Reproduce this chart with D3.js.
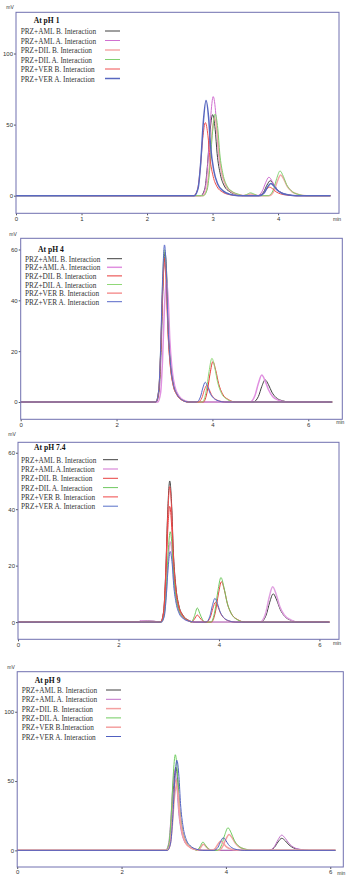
<!DOCTYPE html>
<html lang="en">
<head>
<meta charset="UTF-8" />
<title>PRZ interaction chromatograms</title>
<style>
  body { margin: 0; background: #fff; }
  .axis path { display: none; }
  .axis line { stroke: #555; }
  .axis text { font-family: "Liberation Sans", Arial, sans-serif; font-size: 6px; fill: #333; }
  .leg text { font-family: "Liberation Serif", "Times New Roman", serif; font-size: 7.3px; fill: #333; }
  .leg .ttl { font-weight: bold; fill: #111; font-size: 7.6px; }
  .unit { font-family: "Liberation Sans", Arial, sans-serif; font-size: 5px; fill: #333; }
</style>
</head>
<body>
<div id="chart"></div>
<script src="https://d3js.org/d3.v7.min.js"></script>
<script>
// ---- data (time in min, signal in mV) ----
const seriesNames = [
  ["PRZ+AML B. Interaction", "PRZ+AML A. Interaction", "PRZ+DIL B. Interaction", "PRZ+DIL A. Interaction", "PRZ+VER B. Interaction", "PRZ+VER A. Interaction"],
  ["PRZ+AML B. Interaction", "PRZ+AML A. Interaction", "PRZ+DIL B. Interaction", "PRZ+DIL A. Interaction", "PRZ+VER B. Interaction", "PRZ+VER A. Interaction"],
  ["PRZ+AML B. Interaction", "PRZ+AML A.Interaction", "PRZ+DIL B. Interaction", "PRZ+DIL A. Interaction", "PRZ+VER B. Interaction", "PRZ+VER A. Interaction"],
  ["PRZ+AML B. Interaction", "PRZ+AML A. Interaction", "PRZ+DIL B. Interaction", "PRZ+DIL A. Interaction", "PRZ+VER B.Interaction", "PRZ+VER A. Interaction"]
]
const panelTitles = ["At pH 1", "At pH 4", "At pH 7.4", "At pH 9"]
const xTicks = [[0, 1, 2, 3, 4], [0, 2, 4, 6], [0, 2, 4, 6], [0, 2, 4, 6]]
const yTicks = [[0, 50, 100], [0, 20, 40, 60], [0, 20, 40, 60], [0, 50, 100]]

const ph1Curves = [
  [[0,0],[2.82,0],[2.88,4.6],[2.92,20],[2.96,44.5],[3.00,57],[3.04,46.7],[3.07,29.6],[3.12,14.8],[3.18,6.8],[3.26,2.9],[3.36,0.9],[3.50,0],[3.70,0],[3.78,2.6],[3.83,7.4],[3.88,10.5],[3.93,8.2],[3.98,4.7],[4.05,2.1],[4.15,0.6],[4.28,0],[4.80,0]],
  [[0.97,0],[2.83,0],[2.89,5.6],[2.93,24.4],[2.97,54.4],[3.01,69.7],[3.05,57.2],[3.08,36.2],[3.13,18.1],[3.19,8.4],[3.27,3.5],[3.37,1],[3.51,0],[3.68,0],[3.76,3.3],[3.81,9.1],[3.86,13],[3.91,10.1],[3.96,5.9],[4.03,2.6],[4.13,0.8],[4.26,0],[4.80,0]],
  [[0.97,0],[2.85,0],[2.91,4.4],[2.95,19.3],[2.99,42.9],[3.03,55],[3.07,45.1],[3.10,28.6],[3.15,14.3],[3.21,6.6],[3.29,2.8],[3.39,0.8],[3.46,0],[3.52,0.5],[3.58,1.2],[3.63,0.7],[3.70,0],[3.86,0],[3.94,3.6],[3.99,10.2],[4.04,14.5],[4.09,11.3],[4.14,6.5],[4.21,2.9],[4.31,0.9],[4.44,0],[4.80,0]],
  [[0,0],[2.86,0],[2.92,4.6],[2.96,20.1],[3.00,44.9],[3.04,57.5],[3.08,47.2],[3.11,29.9],[3.16,15],[3.22,6.9],[3.30,2.9],[3.40,0.9],[3.46,0],[3.52,0.8],[3.58,2],[3.63,1.2],[3.70,0],[3.85,0],[3.93,4.4],[3.98,12.2],[4.03,17.4],[4.08,13.6],[4.13,7.8],[4.20,3.5],[4.30,1],[4.43,0],[4.80,0]],
  [[0,0],[2.71,0],[2.77,4.1],[2.81,18],[2.85,40.1],[2.89,51.4],[2.93,42.1],[2.96,26.7],[3.01,13.4],[3.07,6.2],[3.15,2.6],[3.25,0.8],[3.39,0],[3.69,0],[3.77,1.5],[3.82,4.2],[3.87,6],[3.92,4.7],[3.97,2.7],[4.04,1.2],[4.14,0.4],[4.27,0],[4.80,0]],
  [[0,0],[2.72,0],[2.78,5.4],[2.82,23.5],[2.86,52.3],[2.90,67],[2.94,54.9],[2.97,34.8],[3.02,17.4],[3.08,8],[3.16,3.4],[3.26,1],[3.40,0],[3.71,0],[3.79,2.1],[3.84,6],[3.89,8.5],[3.94,6.6],[3.99,3.8],[4.06,1.7],[4.16,0.5],[4.29,0],[4.80,0]]
]
const ph4Curves = [
  [[0,0],[2.83,0],[2.89,4.7],[2.93,20.7],[2.97,46],[3.01,59],[3.05,48.4],[3.08,30.7],[3.13,15.3],[3.19,7.1],[3.27,3],[3.37,0.9],[3.51,0],[4.85,0],[4.96,2.2],[5.03,6.1],[5.10,8.7],[5.17,6.8],[5.24,3.9],[5.33,1.7],[5.46,0.5],[5.62,0],[6.50,0]],
  [[0,0],[2.86,0],[2.92,3.8],[2.96,16.8],[3.00,37.4],[3.04,48],[3.08,39.4],[3.11,25],[3.16,12.5],[3.22,5.8],[3.30,2.4],[3.40,0.7],[3.54,0],[4.78,0],[4.89,2.7],[4.96,7.4],[5.03,10.6],[5.10,8.3],[5.17,4.8],[5.26,2.1],[5.39,0.6],[5.55,0],[6.40,0]],
  [[0,0],[2.82,0],[2.88,4.5],[2.92,19.8],[2.96,44.1],[3.00,56.5],[3.04,46.3],[3.07,29.4],[3.12,14.7],[3.18,6.8],[3.26,2.8],[3.36,0.8],[3.50,0],[3.81,0],[3.89,4],[3.95,11.1],[4.01,15.9],[4.07,12.4],[4.13,7.2],[4.21,3.2],[4.33,1],[4.49,0],[6.50,0]],
  [[0,0],[2.82,0],[2.88,4.8],[2.92,21],[2.96,46.8],[3.00,60],[3.04,49.2],[3.07,31.2],[3.12,15.6],[3.18,7.2],[3.26,3],[3.36,0.9],[3.50,0],[3.79,0],[3.87,4.3],[3.93,12],[3.99,17.2],[4.05,13.4],[4.11,7.7],[4.19,3.4],[4.31,1],[4.47,0],[6.50,0]],
  [[0,0],[2.82,0],[2.88,4.4],[2.92,19.3],[2.96,42.9],[3.00,55],[3.04,45.1],[3.07,28.6],[3.12,14.3],[3.18,6.6],[3.26,2.8],[3.36,0.8],[3.50,0],[3.70,0],[3.78,1.6],[3.83,4.6],[3.88,6.5],[3.93,5.1],[3.98,2.9],[4.05,1.3],[4.15,0.4],[4.28,0],[6.50,0]],
  [[0,0],[2.82,0],[2.88,4.9],[2.92,21.6],[2.96,48.2],[3.00,61.8],[3.04,50.7],[3.07,32.1],[3.12,16.1],[3.18,7.4],[3.26,3.1],[3.36,0.9],[3.50,0],[3.67,0],[3.75,2],[3.80,5.5],[3.85,7.8],[3.90,6.1],[3.95,3.5],[4.02,1.6],[4.12,0.5],[4.25,0],[6.50,0]]
]
const ph74Curves = [
  [[0,0],[2.40,0],[2.45,0.5],[2.70,0.3],[2.84,0],[2.90,4],[2.94,17.5],[2.98,39],[3.02,50],[3.06,41],[3.09,26],[3.14,13],[3.20,6],[3.28,2.5],[3.38,0.8],[3.52,0],[4.83,0],[4.94,2.5],[5.01,7],[5.08,10],[5.15,7.8],[5.22,4.5],[5.31,2],[5.44,0.6],[5.60,0],[6.20,0]],
  [[0,0],[2.40,0],[2.45,0.5],[2.70,0.3],[2.85,0],[2.91,2.3],[2.95,10],[2.99,22.2],[3.03,28.5],[3.07,23.4],[3.10,14.8],[3.15,7.4],[3.21,3.4],[3.29,1.4],[3.39,0.4],[3.53,0],[4.82,0],[4.93,3.1],[5.00,8.8],[5.07,12.5],[5.14,9.8],[5.21,5.6],[5.30,2.5],[5.43,0.8],[5.59,0],[6.20,0]],
  [[0,0],[2.84,0],[2.90,3.3],[2.94,14.4],[2.98,32],[3.02,41],[3.06,33.6],[3.09,21.3],[3.14,10.7],[3.20,4.9],[3.28,2.1],[3.38,0.6],[3.45,0],[3.51,1],[3.57,2.5],[3.62,1.5],[3.67,0.5],[3.73,0],[3.85,0],[3.93,3.6],[3.99,10],[4.05,14.3],[4.11,11.2],[4.17,6.4],[4.25,2.9],[4.37,0.9],[4.53,0],[6.20,0]],
  [[0,0],[2.85,0],[2.91,2.6],[2.95,11.2],[2.99,25],[3.03,32],[3.07,26.2],[3.10,16.6],[3.15,8.3],[3.21,3.8],[3.29,1.6],[3.39,0.5],[3.45,0],[3.51,2],[3.57,5],[3.62,3],[3.67,1],[3.73,0],[3.84,0],[3.92,4],[3.98,11.1],[4.04,15.8],[4.10,12.3],[4.16,7.1],[4.24,3.2],[4.36,0.9],[4.52,0],[6.20,0]],
  [[0,0],[2.84,0],[2.90,3.8],[2.94,16.8],[2.98,37.4],[3.02,48],[3.06,39.4],[3.09,25],[3.14,12.5],[3.20,5.8],[3.28,2.4],[3.38,0.7],[3.52,0],[3.75,0],[3.83,1.8],[3.88,4.9],[3.93,7],[3.98,5.5],[4.03,3.2],[4.10,1.4],[4.20,0.4],[4.33,0],[6.20,0]],
  [[0,0],[2.85,0],[2.91,2],[2.95,8.8],[2.99,19.5],[3.03,25],[3.07,20.5],[3.10,13],[3.15,6.5],[3.21,3],[3.29,1.3],[3.39,0.4],[3.53,0],[3.74,0],[3.82,2.1],[3.87,5.9],[3.92,8.4],[3.97,6.6],[4.02,3.8],[4.09,1.7],[4.19,0.5],[4.32,0],[6.20,0]]
]
const ph9Curves = [
  [[0,0],[2.86,0],[2.92,4.8],[2.96,21],[3.00,46.8],[3.04,60],[3.08,49.2],[3.11,31.2],[3.16,15.6],[3.22,7.2],[3.30,3],[3.40,0.9],[3.54,0],[4.82,0],[4.93,2.2],[5.00,6.1],[5.07,8.7],[5.14,6.8],[5.21,3.9],[5.30,1.7],[5.43,0.5],[5.59,0],[6.10,0]],
  [[0,0],[2.84,0],[2.90,4.6],[2.94,20],[2.98,44.5],[3.02,57],[3.06,46.7],[3.09,29.6],[3.14,14.8],[3.20,6.8],[3.28,2.9],[3.38,0.9],[3.52,0],[4.82,0],[4.93,2.8],[5.00,7.7],[5.07,11],[5.14,8.6],[5.21,5],[5.30,2.2],[5.43,0.7],[5.59,0],[6.10,0]],
  [[0,0],[2.86,0],[2.92,4.1],[2.96,17.9],[3.00,39.8],[3.04,51],[3.08,41.8],[3.11,26.5],[3.16,13.3],[3.22,6.1],[3.30,2.6],[3.40,0.8],[3.45,0],[3.51,1.8],[3.57,4.5],[3.62,2.7],[3.67,0.9],[3.73,0],[3.86,0],[3.94,2.9],[4.00,8.1],[4.06,11.5],[4.12,9],[4.18,5.2],[4.26,2.3],[4.38,0.7],[4.54,0],[6.10,0]],
  [[0,0],[2.85,0],[2.91,5.5],[2.95,24.2],[2.99,53.8],[3.03,69],[3.07,56.6],[3.10,35.9],[3.15,17.9],[3.21,8.3],[3.29,3.5],[3.39,1],[3.44,0],[3.50,2.4],[3.56,6],[3.61,3.6],[3.66,1.2],[3.72,0],[3.84,0],[3.92,4.1],[3.98,11.4],[4.04,16.3],[4.10,12.7],[4.16,7.3],[4.24,3.3],[4.36,1],[4.52,0],[6.10,0]],
  [[0,0],[2.87,0],[2.93,3.8],[2.97,16.5],[3.01,36.7],[3.05,47],[3.09,38.5],[3.12,24.4],[3.17,12.2],[3.23,5.6],[3.31,2.4],[3.41,0.7],[3.55,0],[3.72,0],[3.80,1.6],[3.85,4.6],[3.90,6.5],[3.95,5.1],[4.00,2.9],[4.07,1.3],[4.17,0.4],[4.30,0],[6.10,0]],
  [[0,0],[2.88,0],[2.94,5.2],[2.98,22.8],[3.02,50.7],[3.06,65],[3.10,53.3],[3.13,33.8],[3.18,16.9],[3.24,7.8],[3.32,3.3],[3.42,1],[3.56,0],[3.77,0],[3.85,2.3],[3.90,6.4],[3.95,9.1],[4.00,7.1],[4.05,4.1],[4.12,1.8],[4.22,0.5],[4.35,0],[6.10,0]]
]
const allCurves = [ph1Curves, ph4Curves, ph74Curves, ph9Curves]

// ---- styling / layout ----
const colours = [
  ["#404040", "#d070d0", "#f4a8a8", "#80d070", "#f05050", "#5868c0"],
  ["#404040", "#e090e0", "#e83838", "#90d878", "#f06060", "#5868c8"],
  ["#404040", "#e0a0e0", "#e84040", "#70c860", "#f04848", "#5870c8"],
  ["#404040", "#c070c8", "#f4a0a0", "#70cc60", "#f4a0a0", "#5060c0"]
]
const widths = [[1, 1, 1.5, 1, 1, 1.5], [1, 1.5, 1, 1, 1, 1], [1, 1.5, 1, 1, 1, 1], [1, 1, 1.5, 1, 1.5, 1]]
// box edges, x max, y range, legend placement
const layout = [
  { l: 16, r: 339, t: 12.3, b: 213.3, xMax: 4.93, yMin: -12.4, yMax: 129, legX: 20.7, legT: 20, legY: 31, legDy: 9.5, lineX: 105, mv: [10, 9], lab: 221 },
  { l: 20.7, r: 342.3, t: 238.3, b: 419.3, xMax: 6.71, yMin: -6.8, yMax: 64.4, legX: 25, legT: 249.3, legY: 258.7, legDy: 8.6, lineX: 107, mv: [13, 236], lab: 424 },
  { l: 18, r: 339, t: 442.3, b: 639.3, xMax: 6.39, yMin: -6.1, yMax: 63.7, legX: 21, legT: 446.7, legY: 459.7, legDy: 9.3, lineX: 103, mv: [12, 436], lab: 645 },
  { l: 17.2, r: 343.3, t: 671.7, b: 867, xMax: 6.25, yMin: -12, yMax: 128.9, legX: 21.7, legT: 680, legY: 690, legDy: 9.3, lineX: 106, mv: [11, 669], lab: 875 }
]

const svg = d3.select('#chart')
  .append('svg')
  .attr('width', 354)
  .attr('height', 878)

layout.forEach((p, i) => {
  const g = svg.append('g')

  const x = d3.scaleLinear().domain([0, p.xMax]).range([p.l, p.r])
  const y = d3.scaleLinear().domain([p.yMin, p.yMax]).range([p.b, p.t])

  g.append('clipPath').attr('id', 'clip' + i)
    .append('rect')
    .attr('x', p.l).attr('y', p.t)
    .attr('width', p.r - p.l).attr('height', p.b - p.t)

  // axes (ticks + labels only, the frame is a rect)
  g.append('g')
    .attr('class', 'axis')
    .attr('transform', `translate(${p.l},0)`)
    .call(d3.axisLeft(y).tickValues(yTicks[i]).tickFormat(d3.format('d')).tickSize(2).tickPadding(1))

  g.append('g')
    .attr('class', 'axis')
    .attr('transform', `translate(0,${p.b})`)
    .call(d3.axisBottom(x).tickValues(xTicks[i]).tickFormat(d3.format('d')).tickSize(2).tickPadding(1))

  g.append('text').attr('class', 'unit')
    .attr('x', p.mv[0]).attr('y', p.mv[1])
    .attr('text-anchor', 'middle').text('mV')
  g.append('text').attr('class', 'unit')
    .attr('x', p.r - 2).attr('y', p.lab)
    .attr('text-anchor', 'middle').text('min')

  // curves
  const line = d3.line()
    .x(d => x(d[0]))
    .y(d => y(d[1]))
    .curve(d3.curveMonotoneX)

  g.append('g')
    .attr('clip-path', `url(#clip${i})`)
    .selectAll('path')
    .data(allCurves[i])
    .join('path')
    .attr('d', line)
    .attr('fill', 'none')
    .attr('stroke', (d, k) => colours[i][k])
    .attr('stroke-width', (d, k) => widths[i][k])

  // frame
  g.append('rect')
    .attr('x', p.l).attr('y', p.t)
    .attr('width', p.r - p.l).attr('height', p.b - p.t)
    .attr('fill', 'none')
    .attr('stroke', '#7070b0')
    .attr('stroke-width', 1)

  // legend
  const leg = g.append('g').attr('class', 'leg')
  leg.append('text').attr('class', 'ttl')
    .attr('x', p.legX + 13).attr('y', p.legT + 3)
    .text(panelTitles[i])
  seriesNames[i].forEach((name, k) => {
    const yy = p.legY + k * p.legDy
    leg.append('text').attr('x', p.legX).attr('y', yy + 3).text(name)
    leg.append('line')
      .attr('x1', p.lineX).attr('x2', p.lineX + 15)
      .attr('y1', yy).attr('y2', yy)
      .attr('stroke', colours[i][k])
      .attr('stroke-width', widths[i][k])
  })
})
</script>
</body>
</html>
